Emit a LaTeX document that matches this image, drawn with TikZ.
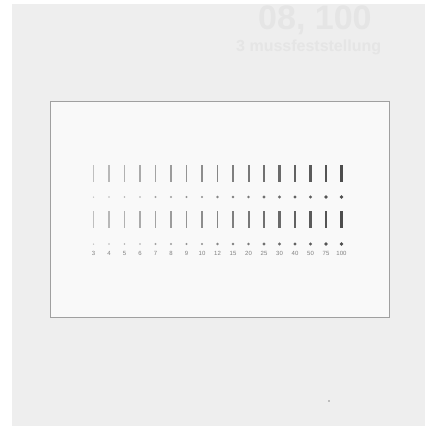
\documentclass[tikz,border=0pt]{standalone}
\usepackage{fontspec}
\setmainfont{Liberation Sans}
\definecolor{pagebg}{HTML}{EEEEEE}
\definecolor{innerbg}{HTML}{F9F9F9}
\definecolor{ghost}{HTML}{E5E5E5}
\definecolor{framecol}{HTML}{A0A0A0}
\begin{document}
\begin{tikzpicture}[x=1pt,y=-1pt,
  framebox/.style={draw=framecol,line width=1pt,fill=innerbg},
  ghosttext/.style={text=ghost,inner sep=0pt,anchor=west},
  lbl/.style={text=black!50,inner sep=0pt,font=\fontsize{6}{6.5}\selectfont}]
\useasboundingbox (0,0) rectangle (425,426);
\fill[white] (0,0) rectangle (425,426);
\fill[pagebg] (12,4) rectangle (425,426);
% faint show-through text of the scanned page
\node[ghosttext,font=\bfseries\fontsize{34}{34}\selectfont] (g1) at (258,20) {08, 100};
\node[ghosttext,font=\bfseries\fontsize{16}{16}\selectfont] (g2) at (236,47) {3 mussfeststellung};
% frame
\draw[framebox] (50,101) rectangle (389,317);
% bars, dots, labels
\foreach \lab [count=\i from 0] in {3,4,5,6,7,8,9,10,12,15,20,25,30,40,50,75,100} {
  \pgfmathsetmacro\xx{93.5+15.5*\i}
  \pgfmathsetmacro\w{0.9+0.11*\i}
  \pgfmathsetmacro\g{25+2.8*\i}
  \pgfmathsetmacro\r{0.75+0.07*\i}
  \draw[black!\g,line width=\w pt] (\xx,165) -- (\xx,182);
  \draw[black!\g,line width=\w pt] (\xx,211) -- (\xx,228);
  \fill[black!\g] (\xx,197) circle (\r pt);
  \fill[black!\g] (\xx,244) circle (\r pt);
  \node[lbl] (l\i) at (\xx,253.5) {\lab};
}
\fill[black!45] (329,401) circle (0.9pt);
\end{tikzpicture}
\end{document}
